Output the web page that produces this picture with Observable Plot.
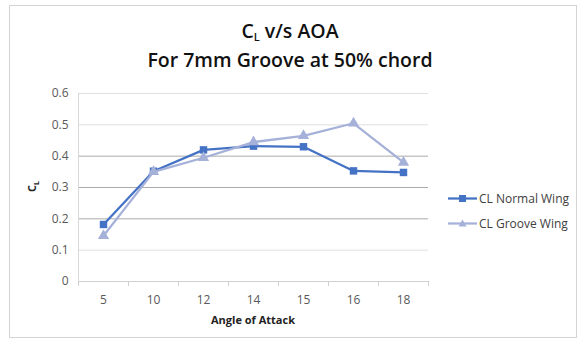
<!DOCTYPE html>
<html>
<head>
<meta charset="utf-8">
<script src="https://cdn.jsdelivr.net/npm/d3@7"></script>
<script src="https://cdn.jsdelivr.net/npm/@observablehq/plot@0.6"></script>
<style>
  html, body { margin: 0; padding: 0; background: #fff; }
  #wrap { position: relative; width: 580px; height: 341px; overflow: hidden; font-family: "Open Sans", sans-serif; }
  #frame { position: absolute; left: 9px; top: 5px; width: 568px; height: 333px; border: 1px solid #d4d4d4; box-sizing: border-box; }
  #title { position: absolute; left: 0; width: 580px; top: 16px; text-align: center; font-size: 19.5px; font-weight: 600; color: #111; line-height: 29px; }
  #title sub { font-size: 11px; vertical-align: -3px; line-height: 0; }
  #ylab { position: absolute; left: 27px; top: 178px; transform: rotate(-90deg); transform-origin: center; font-size: 11px; font-weight: 700; color: #222; }
  #ylab sub { font-size: 7px; }
  #xlab { position: absolute; left: 78px; width: 350px; top: 312px; text-align: center; font-size: 11px; font-weight: 700; color: #222; }
  #legend { position: absolute; left: 448px; top: 186px; font-size: 12px; color: #404040; }
  .li { display: flex; align-items: center; height: 25px; }
  .li svg { margin-right: 2px; }
  svg.plot { position: absolute; left: 0; top: 0; }
</style>
</head>
<body>
<div id="wrap">
  <div id="frame"></div>
  <div id="title">C<sub>L</sub> v/s AOA<br>For 7mm Groove at 50% chord</div>
  <div id="ylab">C<sub>L</sub></div>
  <div id="xlab">Angle of Attack</div>
  <div id="legend"></div>
</div>
<script>
const categories = ["5", "10", "12", "14", "15", "16", "18"];
const normalWing = [0.182, 0.352, 0.42, 0.432, 0.43, 0.353, 0.348];
const grooveWing = [0.146, 0.350, 0.395, 0.445, 0.465, 0.505, 0.380];
const yTicks = [0, 0.1, 0.2, 0.3, 0.4, 0.5, 0.6];
const seriesNames = ["CL Normal Wing", "CL Groove Wing"];
const seriesColors = ["#4472C4", "#A5B1D9"];
const darkGrid = [0.2, 0.3, 0.4];

const idx = categories.map((_, i) => i);
const bounds = d3.range(categories.length + 1).map(i => i - 0.5);
const normalData = idx.map(i => ({i, v: normalWing[i]}));
const grooveData = idx.map(i => ({i, v: grooveWing[i]}));

const chart = Plot.plot({
  width: 580,
  height: 341,
  marginLeft: 78,
  marginRight: 152,
  marginTop: 93,
  marginBottom: 60,
  style: {fontFamily: "Open Sans, sans-serif", fontSize: "12px", color: "#595959", background: "transparent"},
  x: {type: "linear", domain: [-0.5, categories.length - 0.5]},
  y: {domain: [0, 0.6]},
  marks: [
    Plot.ruleY(yTicks.filter(t => t > 0 && !darkGrid.includes(t)), {stroke: "#e0e0e0", strokeWidth: 1}),
    Plot.ruleY(darkGrid, {stroke: "#ababab", strokeWidth: 1}),
    Plot.ruleX([-0.5], {stroke: "#d9d9d9"}),
    Plot.ruleY([0], {stroke: "#d0d0d0"}),
    Plot.axisY(yTicks, {tickSize: 0, tickPadding: 10, tickFormat: d => d === 0 ? "0" : d3.format(".1f")(d), label: null, fill: "#595959", fontSize: 12}),
    Plot.axisX(idx, {tickSize: 0, tickPadding: 14, tickFormat: i => categories[i], label: null, fill: "#595959", fontSize: 12}),
    Plot.axisX(bounds, {tickSize: 5, tickFormat: () => "", label: null, stroke: "#d0d0d0"}),
    Plot.line(normalData, {x: "i", y: "v", stroke: seriesColors[0], strokeWidth: 2.25}),
    Plot.dot(normalData, {x: "i", y: "v", symbol: "square", r: 4.2, fill: seriesColors[0], stroke: null}),
    Plot.line(grooveData, {x: "i", y: "v", stroke: seriesColors[1], strokeWidth: 2.25}),
    Plot.dot(grooveData, {x: "i", y: "v", symbol: "triangle", r: 4.2, fill: seriesColors[1], stroke: null})
  ]
});
document.getElementById("wrap").appendChild(chart);

const leg = document.getElementById("legend");
seriesNames.forEach((name, k) => {
  const row = document.createElement("div");
  row.className = "li";
  const shape = k === 0
    ? `<rect x="11" y="4" width="7" height="7" fill="${seriesColors[k]}"/>`
    : `<path d="M14.5,3.5 L18.5,10.5 L10.5,10.5 Z" fill="${seriesColors[k]}"/>`;
  row.innerHTML = `<svg width="29" height="15"><line x1="0" x2="29" y1="7.5" y2="7.5" stroke="${seriesColors[k]}" stroke-width="2.25"/>${shape}</svg><span>${name}</span>`;
  leg.appendChild(row);
});
</script>
</body>
</html>
